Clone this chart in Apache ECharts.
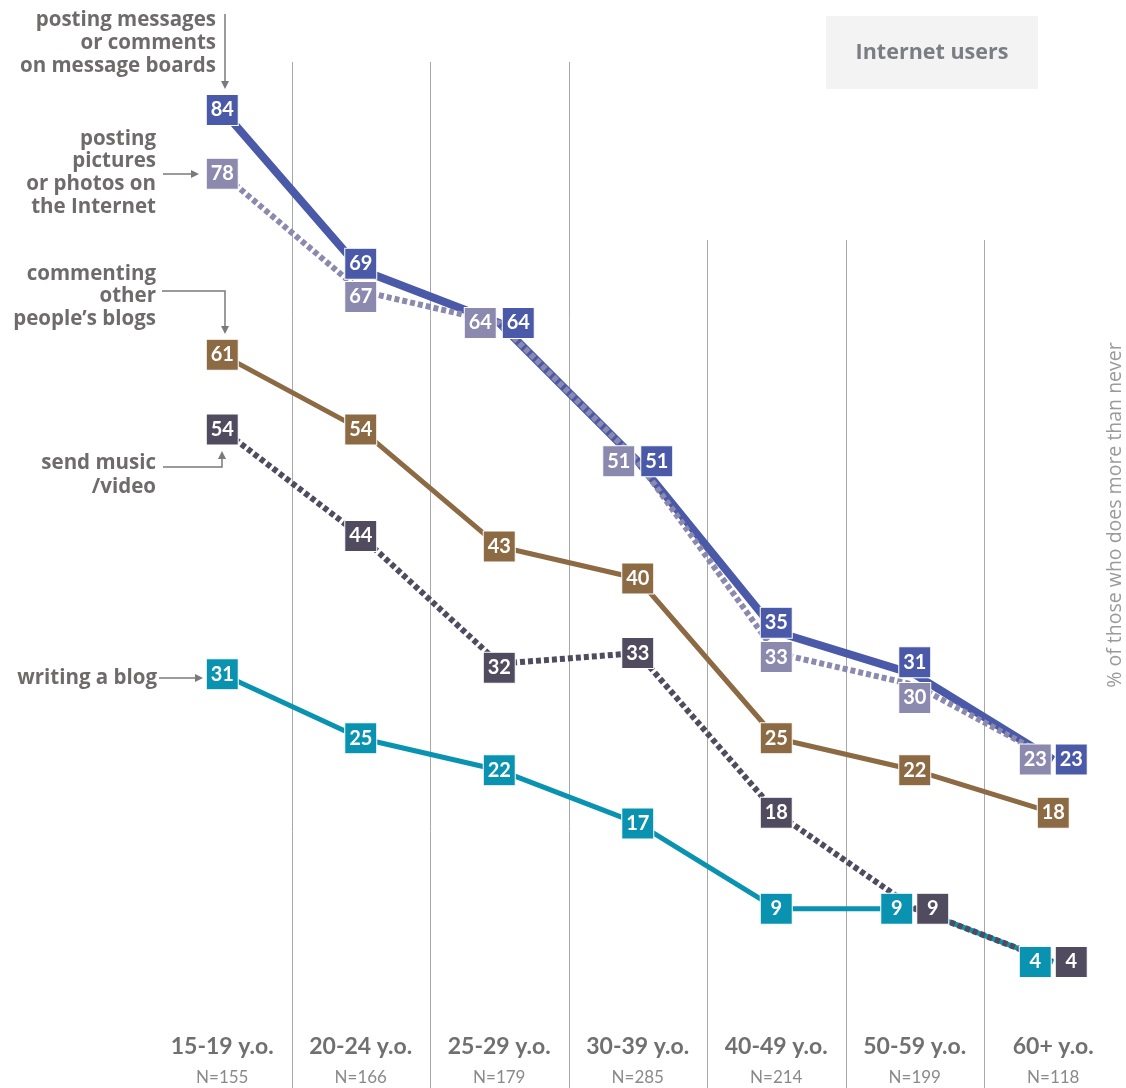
<!DOCTYPE html>
<html>
<head>
<meta charset="utf-8">
<script src="https://cdn.jsdelivr.net/npm/echarts@6/dist/echarts.min.js"></script>
<style>
  html, body { margin: 0; padding: 0; background: #fff; }
  #chart { width: 1126px; height: 1088px; }
</style>
</head>
<body>
<div id="chart"></div>
<script>
// ---- data ----
const categories = ['15-19 y.o.', '20-24 y.o.', '25-29 y.o.', '30-39 y.o.', '40-49 y.o.', '50-59 y.o.', '60+ y.o.'];
const sampleSizes = ['N=155', 'N=166', 'N=179', 'N=285', 'N=214', 'N=199', 'N=118'];
const postingMessages = [84, 69, 64, 51, 35, 31, 23];
const postingPictures = [78, 67, 64, 51, 33, 30, 23];
const commentingBlogs = [61, 54, 43, 40, 25, 22, 18];
const sendMusicVideo = [54, 44, 32, 33, 18, 9, 4];
const writingBlog = [31, 25, 22, 17, 9, 9, 4];

// ---- styling / layout (not data) ----
const FONT = 'Lato, "Open Sans", sans-serif';
const NOTE_FONT = '"Open Sans", Lato, sans-serif';
const TXT = '#6f6b6b';
const seriesDefs = [
  { name: 'writing a blog', data: writingBlog, color: '#0a93b0', width: 5, dash: 'solid',
    nudge: { 5: [-18, 0], 6: [-18, 0] } },
  { name: 'commenting other people\u2019s blogs', data: commentingBlogs, color: '#8c6a43', width: 5, dash: 'solid',
    nudge: {} },
  { name: 'send music/video', data: sendMusicVideo, color: '#504b5f', width: 6, dash: [5, 3],
    nudge: { 2: [0, 4], 5: [18, 0], 6: [18, 0] } },
  { name: 'posting messages or comments on message boards', data: postingMessages, color: '#4a5aa8', width: 8, dash: 'solid',
    nudge: { 1: [0, -6], 2: [19, 0], 3: [19, 0], 4: [0, -9], 5: [0, -12], 6: [18, 0] } },
  { name: 'posting pictures or photos on the Internet', data: postingPictures, color: '#8b89ae', width: 6, dash: [5, 3],
    nudge: { 1: [0, 6], 2: [-19, 0], 3: [-19, 0], 4: [0, 4], 5: [0, 13], 6: [-18, 0] } }
];

const series = [];
// vertical separators between age groups, placed at category boundaries
series.push({
  type: 'custom',
  z: 1,
  silent: true,
  data: [[1, 0], [2, 0], [3, 0], [4, 0], [5, 0], [6, 0]],
  encode: { x: 0, y: 1 },
  renderItem: function (params, api) {
    const idx = api.value(0);
    const c = api.coord([idx, 0]);
    const band = api.size([1, 0])[0];
    const x = Math.round(c[0] - band / 2) + 0.5;
    const top = idx <= 3 ? 62 : 240;
    return {
      type: 'line',
      shape: { x1: x, y1: top, x2: x, y2: api.getHeight() },
      style: { stroke: '#a6a8ab', lineWidth: 1 }
    };
  }
});

seriesDefs.forEach(function (d) {
  series.push({
    type: 'line',
    name: d.name,
    data: d.data,
    z: 2,
    symbol: 'none',
    silent: true,
    lineStyle: { color: d.color, width: d.width, type: d.dash, cap: 'butt' }
  });
});
seriesDefs.forEach(function (d) {
  series.push({
    type: 'scatter',
    name: d.name + ' values',
    z: 3,
    silent: true,
    symbol: 'rect',
    symbolSize: [32, 31],
    itemStyle: { color: d.color, borderColor: '#ffffff', borderWidth: 1, opacity: 1 },
    label: {
      show: true,
      position: 'inside',
      color: '#ffffff',
      fontFamily: FONT,
      fontWeight: 'bold',
      fontSize: 20,
      formatter: function (p) { return Array.isArray(p.value) ? p.value[1] : p.value; }
    },
    data: d.data.map(function (v, i) {
      const item = { value: v };
      if (d.nudge[i]) item.symbolOffset = d.nudge[i];
      return item;
    })
  });
});

function arrowHead(tx, ty, dir) {
  const L = 8, W = 4;
  let pts;
  if (dir === 'down') pts = [[tx, ty], [tx - W, ty - L], [tx + W, ty - L]];
  else if (dir === 'up') pts = [[tx, ty], [tx - W, ty + L], [tx + W, ty + L]];
  else pts = [[tx, ty], [tx - L, ty - W], [tx - L, ty + W]];
  return { type: 'polygon', shape: { points: pts }, style: { fill: '#7a7a7a' }, silent: true };
}
function conn(points) {
  return { type: 'polyline', shape: { points: points }, style: { stroke: '#7a7a7a', lineWidth: 1.5, fill: null }, silent: true };
}
function note(text, right, top, lh) {
  return {
    type: 'text', x: right, y: top, silent: true,
    style: { text: text, align: 'right', verticalAlign: 'top', lineHeight: lh,
      font: 'bold 20.5px ' + NOTE_FONT, fill: TXT }
  };
}

const graphics = [
  // header box
  { type: 'rect', shape: { x: 826, y: 16, width: 212, height: 73 }, style: { fill: '#f3f3f3' }, silent: true },
  { type: 'text', x: 932, y: 53, silent: true,
    style: { text: 'Internet users', align: 'center', verticalAlign: 'middle', font: 'bold 21.5px ' + NOTE_FONT, fill: '#7a7e84' } },
  // vertical axis caption
  { type: 'text', x: 1115, y: 515, rotation: Math.PI / 2, silent: true,
    style: { text: '% of those who does more than never', align: 'center', verticalAlign: 'middle',
      font: '19.5px ' + NOTE_FONT, fill: '#9a9a9a' } },
  // annotations
  note('posting messages\nor comments\non message boards', 216, 8.5, 23),
  conn([[225, 14], [225, 82]]), arrowHead(225, 89, 'down'),
  note('posting\npictures\nor photos on\nthe Internet', 156, 127.5, 22.7),
  conn([[163, 174], [192, 174]]), arrowHead(199, 174, 'right'),
  note('commenting\nother\npeople\u2019s blogs', 156, 262.5, 22.5),
  conn([[162, 291], [225, 291], [225, 327]]), arrowHead(225, 334, 'down'),
  note('send music\n/video', 156, 451.5, 23.5),
  conn([[163, 467], [222, 467], [222, 459]]), arrowHead(222, 451, 'up'),
  note('writing a blog', 157, 666.5, 23),
  conn([[159, 678], [196, 678]]), arrowHead(203, 678, 'right')
];

const option = {
  animation: false,
  backgroundColor: '#ffffff',
  grid: { left: 153, right: 3.5, top: 46, bottom: 83.5, containLabel: false },
  xAxis: {
    type: 'category',
    data: categories,
    boundaryGap: true,
    axisLine: { show: false },
    axisTick: { show: false },
    splitLine: { show: false },
    axisLabel: {
      margin: 27,
      interval: 0,
      formatter: function (v, i) { return '{a|' + v + '}\n{b|' + sampleSizes[i] + '}'; },
      rich: {
        a: { fontFamily: FONT, fontWeight: 'bold', fontSize: 23, color: '#707070', lineHeight: 30 },
        b: { fontFamily: FONT, fontSize: 17, color: '#8a8a8a', lineHeight: 32 }
      }
    }
  },
  yAxis: { type: 'value', min: 0, max: 90, show: false },
  series: series,
  graphic: graphics
};

const chart = echarts.init(document.getElementById('chart'), null, { renderer: 'canvas' });
chart.setOption(option);
</script>
</body>
</html>
